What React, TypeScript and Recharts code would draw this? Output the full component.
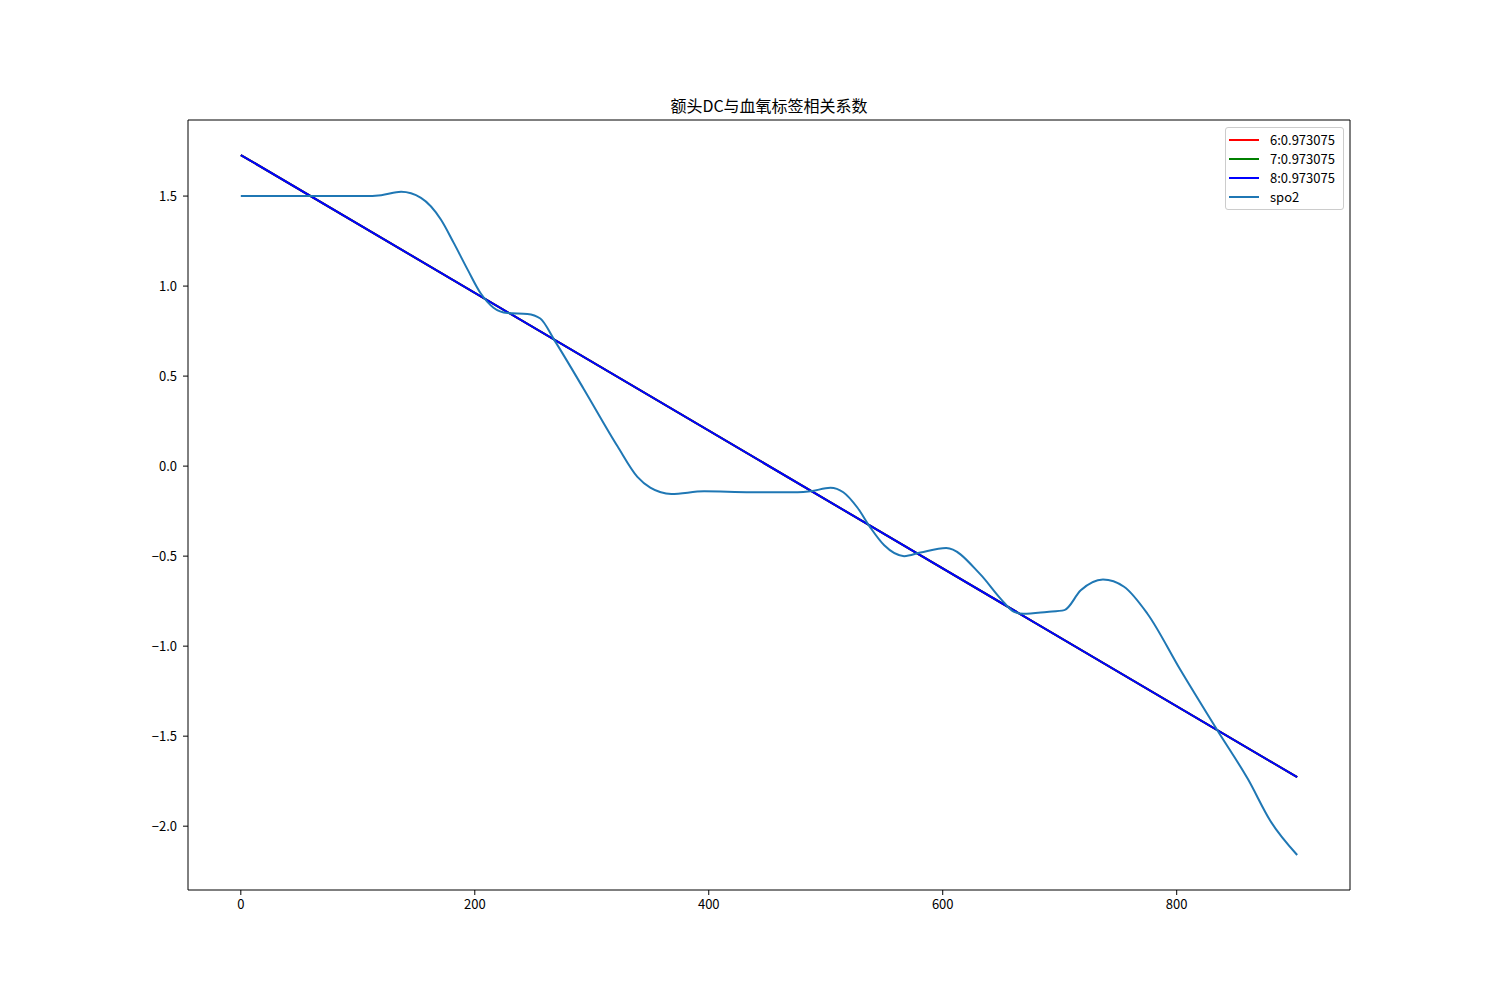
import { LineChart, Line, XAxis, YAxis, Legend, ReferenceLine } from "recharts";

const xTicks = [0, 200, 400, 600, 800];
const yTicks = [-2.0, -1.5, -1.0, -0.5, 0.0, 0.5, 1.0, 1.5];

// fitted lines (channels 6, 7, 8 give the same fit)
const fitX = [0, 903];
const fit6 = [1.728, -1.728];
const fit7 = [1.728, -1.728];
const fit8 = [1.728, -1.728];

const spo2X = [
  0, 40, 80, 105, 120, 137, 154, 171, 182, 194, 205, 216, 228, 245, 256, 268, 293, 322, 339,
  350, 368, 396, 436, 476, 487, 504, 515, 527, 538, 550, 567, 581, 603, 632, 650, 661,
  669, 689, 704, 718, 737, 755, 775, 803, 835, 861, 880, 903,
];
const spo2Y = [
  1.5, 1.5, 1.5, 1.5, 1.505, 1.524, 1.49, 1.37, 1.24, 1.09, 0.96, 0.88, 0.85, 0.845, 0.82, 0.7,
  0.43, 0.11, -0.06, -0.12, -0.155, -0.14, -0.145, -0.145, -0.14, -0.12, -0.145, -0.23, -0.34,
  -0.44, -0.5, -0.48, -0.455, -0.6, -0.74, -0.81, -0.82, -0.81, -0.8, -0.69, -0.63,
  -0.67, -0.82, -1.13, -1.47, -1.74, -1.97, -2.16,
];

const toPoints = (xs: number[], ys: number[]) => xs.map((x, i) => ({ x, y: ys[i] }));

const FONT = '"Noto Sans CJK SC", "DejaVu Sans", sans-serif';
const X_DOMAIN: [number, number] = [-45.15, 948.15];
const Y_DOMAIN: [number, number] = [-2.3545, 1.9225];

const fmtY = (v: number) => (v < 0 ? "\u2212" + Math.abs(v).toFixed(1) : v.toFixed(1));

function LegendBox({ payload }: any) {
  return (
    <div
      style={{
        border: "1px solid #cccccc",
        borderRadius: 3,
        background: "rgba(255,255,255,0.8)",
        padding: "2px 6px 3px 3px",
        fontFamily: FONT,
        fontSize: 13,
        width: 108,
        textAlign: "left",
      }}
    >
      {(payload || []).map((p: any) => (
        <div key={p.value} style={{ display: "flex", alignItems: "center", height: 19 }}>
          <span
            style={{ display: "inline-block", width: 30, height: 2, background: p.color, marginRight: 11 }}
          />
          <span>{p.value}</span>
        </div>
      ))}
    </div>
  );
}

export default function App() {
  return (
    <div style={{ position: "absolute", left: 0, top: 0, width: 1500, height: 1000, background: "#fff" }}>
      <div
        style={{
          position: "absolute",
          left: 188,
          width: 1162,
          top: 93,
          textAlign: "center",
          fontFamily: FONT,
          fontSize: 16,
          color: "#000",
        }}
      >
        额头DC与血氧标签相关系数
      </div>
      <LineChart width={1500} height={1000} margin={{ top: 120, right: 150, bottom: 0, left: 0 }}>
        <XAxis
          dataKey="x"
          type="number"
          domain={X_DOMAIN}
          ticks={xTicks}
          allowDataOverflow
          height={110}
          stroke="#000"
          tickSize={5}
          tick={{ fill: "#000", fontSize: 13, fontFamily: FONT, dy: 3 }}
        />
        <YAxis
          type="number"
          domain={Y_DOMAIN}
          ticks={yTicks}
          allowDataOverflow
          width={188}
          stroke="#000"
          tickSize={5}
          tickFormatter={fmtY}
          tick={{ fill: "#000", fontSize: 13, fontFamily: FONT, dx: -4 }}
        />
        <ReferenceLine y={Y_DOMAIN[1]} stroke="#000" strokeWidth={1} ifOverflow="extendDomain" />
        <ReferenceLine x={X_DOMAIN[1]} stroke="#000" strokeWidth={1} ifOverflow="extendDomain" />
        <Legend
          layout="vertical"
          verticalAlign="middle"
          align="center"
          wrapperStyle={{ top: 127, left: 1225, right: "auto", bottom: "auto", width: "auto" }}
          content={<LegendBox />}
        />
        <Line
          data={toPoints(fitX, fit6)}
          dataKey="y"
          name="6:0.973075"
          stroke="#ff0000"
          strokeWidth={2}
          dot={false}
          isAnimationActive={false}
        />
        <Line
          data={toPoints(fitX, fit7)}
          dataKey="y"
          name="7:0.973075"
          stroke="#008000"
          strokeWidth={2}
          dot={false}
          isAnimationActive={false}
        />
        <Line
          data={toPoints(fitX, fit8)}
          dataKey="y"
          name="8:0.973075"
          stroke="#0000ff"
          strokeWidth={2}
          dot={false}
          isAnimationActive={false}
        />
        <Line
          data={toPoints(spo2X, spo2Y)}
          dataKey="y"
          name="spo2"
          type="monotone"
          stroke="#1f77b4"
          strokeWidth={2}
          dot={false}
          isAnimationActive={false}
        />
      </LineChart>
    </div>
  );
}
